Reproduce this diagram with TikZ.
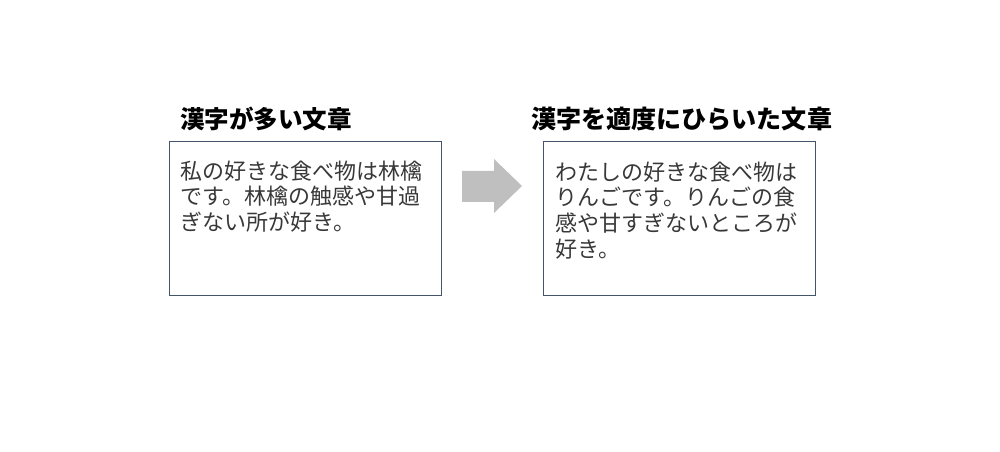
\documentclass[tikz,border=0pt]{standalone}
\usepackage{fontspec}
\newfontfamily\jp{Noto Sans CJK JP}
\definecolor{boxline}{HTML}{44546A}
\definecolor{bodytext}{HTML}{383838}
\definecolor{arrowgray}{HTML}{BFBFBF}

\begin{document}
\begin{tikzpicture}[x=0.75pt, y=-0.75pt,
    box/.style={draw=boxline, line width=0.75pt, minimum width=204pt, minimum height=115.5pt, inner sep=0pt, anchor=north west},
    title/.style={font={\jp\bfseries\fontsize{18.4pt}{22pt}\selectfont}, inner sep=0pt, anchor=west},
    body/.style={font={\jp\fontsize{16.5pt}{19.2pt}\selectfont}, text=bodytext, align=left, inner sep=0pt, anchor=north west}]
    \useasboundingbox (0,0) rectangle (1000,452);

    % left: many kanji
    \node[title] (titleL) at (180,118.5) {漢字が多い文章};
    \node[box] (boxL) at (169,141) {};
    \node[body] (textL) at (180,160.5) {私の好きな食べ物は林檎\\です。林檎の触感や甘過\\ぎない所が好き。};

    % arrow
    \fill[arrowgray] (462,171) -- (494,171) -- (494,159) -- (522,186) -- (494,213) -- (494,202) -- (462,202) -- cycle;

    % right: kanji opened up
    \node[title, font={\jp\bfseries\fontsize{18.8pt}{22pt}\selectfont}] (titleR) at (531,119) {漢字を適度にひらいた文章};
    \node[box] (boxR) at (543,141) {};
    \node[body] (textR) at (555,161.5) {わたしの好きな食べ物は\\りんごです。りんごの食\\感や甘すぎないところが\\好き。};
\end{tikzpicture}
\end{document}
